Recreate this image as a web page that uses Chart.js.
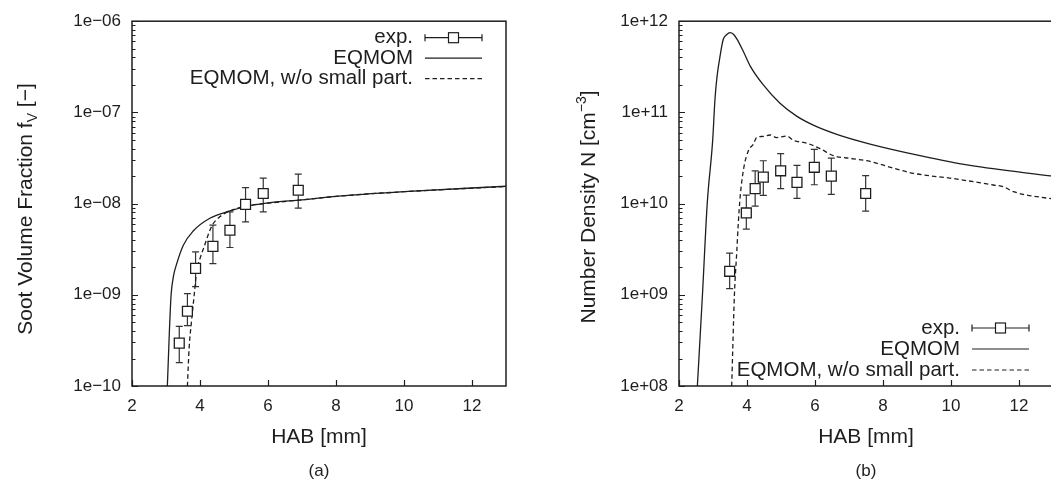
<!DOCTYPE html>
<html>
<head>
<meta charset="utf-8">
<script src="https://cdn.jsdelivr.net/npm/chart.js@4.4.1/dist/chart.umd.min.js"></script>
<style>
  html, body { margin: 0; padding: 0; background: #fff; overflow: hidden; width: 1051px; height: 487px; }
  .panel { position: absolute; top: 0; width: 525px; height: 487px; }
  #panelA { left: 0; }
  #panelB { left: 547px; }
</style>
</head>
<body>
<div class="panel" id="panelA"><canvas id="chartA" width="525" height="487"></canvas></div>
<div class="panel" id="panelB"><canvas id="chartB" width="525" height="487"></canvas></div>
<script>
// ---- shared x axis ----
var habTicks = [2, 4, 6, 8, 10, 12];

// ---- (a) soot volume fraction ----
var habExpA = [3.39, 3.63, 3.87, 4.38, 4.88, 5.34, 5.86, 6.89];
var fvExp = [2.95e-10, 6.6e-10, 1.95e-9, 3.4e-9, 5.1e-9, 9.8e-9, 1.29e-8, 1.4e-8];
var fvLow = [1.8e-10, 4.6e-10, 1.23e-9, 2.2e-9, 3.3e-9, 6.3e-9, 8.1e-9, 8.9e-9];
var fvHigh = [4.5e-10, 1.03e-9, 2.95e-9, 5.8e-9, 8.1e-9, 1.5e-8, 1.9e-8, 2.1e-8];

var habEqA = [3.04, 3.07, 3.10, 3.15, 3.22, 3.30, 3.51, 3.80, 4.29, 4.88, 5.47, 6.0, 7.0, 8.0, 10.0, 13.0];
var fvEq = [1e-10, 2e-10, 4e-10, 1e-9, 1.6e-9, 2.1e-9, 3.5e-9, 5.0e-9, 6.9e-9, 8.3e-9, 9.5e-9, 1.02e-8, 1.1e-8, 1.2e-8, 1.35e-8, 1.55e-8];

var habNoSmallA = [3.63, 3.68, 3.75, 3.83, 3.90, 4.00, 4.10, 4.34, 4.59, 4.88, 5.30, 6.0, 7.0, 8.0, 10.0, 13.0];
var fvNoSmall = [1e-10, 2.6e-10, 5.1e-10, 1e-9, 1.8e-9, 2.5e-9, 3.2e-9, 5.6e-9, 7.2e-9, 8.3e-9, 9.3e-9, 1.01e-8, 1.1e-8, 1.2e-8, 1.35e-8, 1.54e-8];

var fvDecades = [1e-10, 1e-9, 1e-8, 1e-7, 1e-6];
var fvTickLabels = ['1e\u221210', '1e\u221209', '1e\u221208', '1e\u221207', '1e\u221206'];

// ---- (b) number density ----
var habExpB = [3.49, 3.98, 4.24, 4.48, 4.99, 5.47, 5.98, 6.48, 7.49];
var nExp = [1.81e9, 7.9e9, 1.46e10, 1.95e10, 2.29e10, 1.71e10, 2.5e10, 2.0e10, 1.29e10];
var nLow = [1.17e9, 5.25e9, 9.4e9, 1.23e10, 1.46e10, 1.14e10, 1.61e10, 1.26e10, 8.25e9];
var nHigh = [2.86e9, 1.24e10, 2.28e10, 2.95e10, 3.53e10, 2.63e10, 3.93e10, 3.15e10, 2.03e10];

var habEqB = [2.54, 2.69, 2.83, 2.99, 3.06, 3.12, 3.21, 3.30, 3.40, 3.50, 3.60, 3.70, 3.90, 4.10, 4.48, 4.97, 5.46, 5.95, 6.64, 7.62, 9.09, 10.56, 13.0];
var nEq = [1e8, 1e9, 1e10, 4.9e10, 1.43e11, 2.5e11, 4.2e11, 6.3e11, 7.1e11, 7.5e11, 7.2e11, 6.4e11, 4.6e11, 3.2e11, 2.0e11, 1.26e11, 9.1e10, 7.25e10, 5.75e10, 4.5e10, 3.36e10, 2.62e10, 2.0e10];

var habNoSmallB = [3.55, 3.63, 3.70, 3.745, 3.80, 3.90, 4.04, 4.19, 4.28, 4.48, 4.68, 4.87, 5.17, 5.36, 5.76, 6.15, 6.54, 7.13, 7.62, 7.91, 8.89, 10.07, 11.24, 11.54, 11.84, 13.0];
var nNoSmall = [1e8, 1e9, 3.0e9, 6.2e9, 1.2e10, 2.4e10, 3.8e10, 4.5e10, 5.3e10, 5.45e10, 5.65e10, 5.3e10, 5.5e10, 4.95e10, 4.6e10, 4.0e10, 3.36e10, 3.1e10, 2.9e10, 2.7e10, 2.15e10, 1.88e10, 1.6e10, 1.53e10, 1.35e10, 1.12e10];

var nDecades = [1e8, 1e9, 1e10, 1e11, 1e12];
var nTickLabels = ['1e+08', '1e+09', '1e+10', '1e+11', '1e+12'];

var seriesLabels = ['exp.', 'EQMOM', 'EQMOM, w/o small part.'];

var FONT = "'Liberation Sans', Arial, Helvetica, sans-serif";
var INK = '#1e1e1e';

function pts(xs, ys) {
  return xs.map(function (x, i) { return { x: x, y: ys[i] }; });
}

function isDecade(v) {
  var l = Math.log10(v);
  return Math.abs(l - Math.round(l)) < 1e-6;
}

// log ticks: every decade plus 2..9 minor marks
function logTicks(decades) {
  var out = [];
  decades.forEach(function (d, i) {
    out.push({ value: d });
    if (i < decades.length - 1) {
      for (var k = 2; k <= 9; k++) out.push({ value: d * k });
    }
  });
  return out;
}

// frame, inward ticks, error bars, rotated y title and legend drawn gnuplot-style
var gnuplotLook = {
  id: 'gnuplotLook',
  beforeDatasetsDraw: function (chart, args, opts) {
    var ctx = chart.ctx, xs = chart.scales.x, ys = chart.scales.y;
    ctx.save();
    ctx.strokeStyle = '#333';
    ctx.lineWidth = 1.2;
    opts.errX.forEach(function (x, i) {
      var px = xs.getPixelForValue(x);
      var lo = ys.getPixelForValue(opts.errLow[i]);
      var hi = ys.getPixelForValue(opts.errHigh[i]);
      ctx.beginPath();
      ctx.moveTo(px, lo); ctx.lineTo(px, hi);
      ctx.moveTo(px - 3.5, lo); ctx.lineTo(px + 3.5, lo);
      ctx.moveTo(px - 3.5, hi); ctx.lineTo(px + 3.5, hi);
      ctx.stroke();
    });
    ctx.restore();
  },
  afterDraw: function (chart, args, opts) {
    var ctx = chart.ctx, ca = chart.chartArea;
    var xs = chart.scales.x, ys = chart.scales.y;
    ctx.save();

    // frame
    ctx.strokeStyle = INK;
    ctx.lineWidth = 1.5;
    ctx.strokeRect(ca.left, ca.top, ca.right - ca.left, ca.bottom - ca.top);

    // inward tick marks
    ctx.lineWidth = 1.2;
    ctx.beginPath();
    ys.ticks.forEach(function (t) {
      var py = Math.round(ys.getPixelForValue(t.value)) + 0.5;
      var len = isDecade(t.value) ? 6 : 3.5;
      ctx.moveTo(ca.left, py); ctx.lineTo(ca.left + len, py);
    });
    xs.ticks.forEach(function (t) {
      var px = Math.round(xs.getPixelForValue(t.value)) + 0.5;
      ctx.moveTo(px, ca.bottom); ctx.lineTo(px, ca.bottom - 6);
    });
    ctx.stroke();

    // y axis title with sub/superscript
    var big = '21px ' + FONT, small = '14px ' + FONT;
    var parts = opts.yTitle;
    var total = 0;
    parts.forEach(function (p) {
      ctx.font = p[1] ? small : big;
      total += ctx.measureText(p[0]).width;
    });
    ctx.translate(opts.yTitleX, opts.yTitleY);
    ctx.rotate(-Math.PI / 2);
    ctx.fillStyle = INK;
    ctx.textBaseline = 'alphabetic';
    ctx.textAlign = 'left';
    var cx = -total / 2;
    parts.forEach(function (p) {
      ctx.font = p[1] ? small : big;
      var dy = p[1] === 'sub' ? 5 : (p[1] === 'sup' ? -9 : 0);
      ctx.fillText(p[0], cx, dy);
      cx += ctx.measureText(p[0]).width;
    });
    ctx.setTransform(1, 0, 0, 1, 0, 0);

    // legend
    var textRight = ca.right - 93, s0 = ca.right - 81, s1 = ca.right - 24;
    ctx.font = '20.5px ' + FONT;
    ctx.textAlign = 'right';
    ctx.textBaseline = 'middle';
    chart.data.datasets.forEach(function (ds, i) {
      var y = opts.legendTop ? ca.top + 16.5 + i * 20.5 : ca.bottom - 16 - (2 - i) * 21;
      ctx.fillStyle = INK;
      ctx.fillText(ds.label, textRight, y);
      ctx.strokeStyle = INK;
      ctx.lineWidth = 1.2;
      ctx.setLineDash(ds.borderDash || []);
      ctx.beginPath();
      if (i === 0) {
        var mid = (s0 + s1) / 2;
        ctx.moveTo(s0, y); ctx.lineTo(mid - 5, y);
        ctx.moveTo(mid + 5, y); ctx.lineTo(s1, y);
        ctx.moveTo(s0, y - 3.5); ctx.lineTo(s0, y + 3.5);
        ctx.moveTo(s1, y - 3.5); ctx.lineTo(s1, y + 3.5);
        ctx.stroke();
        ctx.strokeRect(mid - 5, y - 5, 10, 10);
      } else {
        ctx.moveTo(s0, y); ctx.lineTo(s1, y);
        ctx.stroke();
      }
      ctx.setLineDash([]);
    });
    ctx.restore();
  }
};

function makeChart(id, cfg) {
  return new Chart(document.getElementById(id), {
    type: 'line',
    data: {
      datasets: [
        {
          label: seriesLabels[0],
          data: pts(cfg.expX, cfg.expY),
          showLine: false,
          pointStyle: 'rect',
          pointRadius: 7,
          pointBackgroundColor: '#fff',
          pointBorderColor: INK,
          pointBorderWidth: 1.3
        },
        {
          label: seriesLabels[1],
          data: pts(cfg.eqX, cfg.eqY),
          borderColor: INK,
          borderWidth: 1.3,
          pointRadius: 0,
          cubicInterpolationMode: 'monotone'
        },
        {
          label: seriesLabels[2],
          data: pts(cfg.nsX, cfg.nsY),
          borderColor: INK,
          borderWidth: 1.3,
          borderDash: [4.5, 3],
          pointRadius: 0,
          cubicInterpolationMode: 'monotone'
        }
      ]
    },
    options: {
      responsive: false,
      animation: false,
      layout: { padding: { top: 15, right: 19, left: 0, bottom: 0 } },
      plugins: {
        legend: { display: false },
        tooltip: { enabled: false },
        title: {
          display: true,
          text: cfg.caption,
          position: 'bottom',
          fullSize: false,
          color: INK,
          font: { family: FONT, size: 17, weight: 'normal' },
          padding: { top: 0, bottom: 5 }
        },
        gnuplotLook: {
          errX: cfg.expX,
          errLow: cfg.errLow,
          errHigh: cfg.errHigh,
          yTitle: cfg.yTitle,
          yTitleX: cfg.yTitleX,
          yTitleY: cfg.yTitleY,
          legendTop: cfg.legendTop
        }
      },
      scales: {
        x: {
          type: 'linear',
          min: 2,
          max: 13,
          afterBuildTicks: function (s) { s.ticks = habTicks.map(function (v) { return { value: v }; }); },
          afterFit: function (s) { s.height = 75.6; },
          grid: { display: false, drawTicks: false },
          border: { display: false },
          ticks: { padding: 10, color: INK, autoSkip: false, maxRotation: 0, font: { family: FONT, size: 17 } },
          title: { display: true, text: 'HAB [mm]', color: INK, font: { family: FONT, size: 21 }, padding: { top: 0, bottom: 12 } }
        },
        y: {
          type: 'logarithmic',
          min: cfg.decades[0],
          max: cfg.decades[cfg.decades.length - 1],
          afterBuildTicks: function (s) { s.ticks = logTicks(cfg.decades); },
          afterFit: function (s) { s.width = 132; },
          grid: { display: false, drawTicks: false },
          border: { display: false },
          ticks: {
            padding: 11,
            color: INK,
            autoSkip: false,
            font: { family: FONT, size: 17 },
            callback: function (v) {
              var k = cfg.decades.findIndex(function (d) { return Math.abs(Math.log10(d) - Math.log10(v)) < 1e-6; });
              return k >= 0 ? cfg.tickLabels[k] : '';
            }
          }
        }
      }
    },
    plugins: [gnuplotLook]
  });
}

makeChart('chartA', {
  expX: habExpA, expY: fvExp, errLow: fvLow, errHigh: fvHigh,
  eqX: habEqA, eqY: fvEq, nsX: habNoSmallA, nsY: fvNoSmall,
  decades: fvDecades, tickLabels: fvTickLabels,
  caption: '(a)',
  yTitle: [['Soot Volume Fraction f', ''], ['V', 'sub'], [' [\u2212]', '']],
  yTitleX: 32, yTitleY: 209,
  legendTop: true
});

makeChart('chartB', {
  expX: habExpB, expY: nExp, errLow: nLow, errHigh: nHigh,
  eqX: habEqB, eqY: nEq, nsX: habNoSmallB, nsY: nNoSmall,
  decades: nDecades, tickLabels: nTickLabels,
  caption: '(b)',
  yTitle: [['Number Density N [cm', ''], ['\u22123', 'sup'], [']', '']],
  yTitleX: 48, yTitleY: 207,
  legendTop: false
});
</script>
</body>
</html>
